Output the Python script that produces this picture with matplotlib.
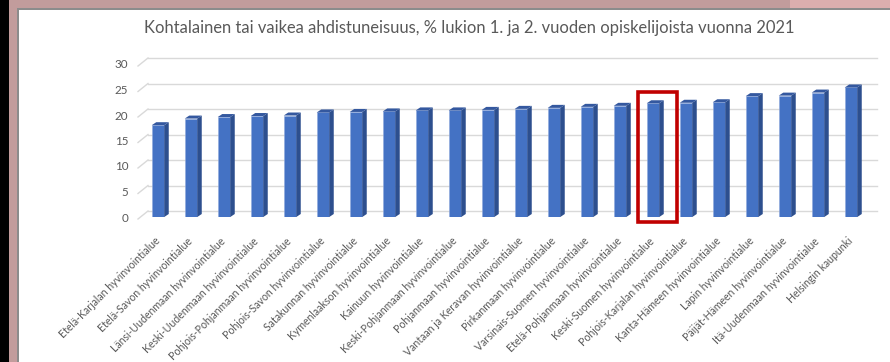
import numpy as np
import matplotlib
matplotlib.use('Agg')
from matplotlib import pyplot as plt
from matplotlib.patches import Polygon, Rectangle

alueet = [
    'Etelä-Karjalan hyvinvointialue',
    'Etelä-Savon hyvinvointialue',
    'Länsi-Uudenmaan hyvinvointialue',
    'Keski-Uudenmaan hyvinvointialue',
    'Pohjois-Pohjanmaan hyvinvointialue',
    'Pohjois-Savon hyvinvointialue',
    'Satakunnan hyvinvointialue',
    'Kymenlaakson hyvinvointialue',
    'Kainuun hyvinvointialue',
    'Keski-Pohjanmaan hyvinvointialue',
    'Pohjanmaan hyvinvointialue',
    'Vantaan ja Keravan hyvinvointialue',
    'Pirkanmaan hyvinvointialue',
    'Varsinais-Suomen hyvinvointialue',
    'Etelä-Pohjanmaan hyvinvointialue',
    'Keski-Suomen hyvinvointialue',
    'Pohjois-Karjalan hyvinvointialue',
    'Kanta-Hämeen hyvinvointialue',
    'Lapin hyvinvointialue',
    'Päijät-Hämeen hyvinvointialue',
    'Itä-Uudenmaan hyvinvointialue',
    'Helsingin kaupunki',
]
osuus = [18.0, 19.3, 19.6, 19.8, 19.9, 20.5, 20.6, 20.7, 20.9, 20.9, 21.0,
         21.2, 21.4, 21.6, 21.8, 22.3, 22.4, 22.5, 23.7, 23.8, 24.4, 25.4]
y_ticks = [0, 5, 10, 15, 20, 25, 30]
korostus = 'Keski-Suomen hyvinvointialue'

otsikko = 'Kohtalainen tai vaikea ahdistuneisuus, % lukion 1. ja 2. vuoden opiskelijoista vuonna 2021'

W, H = 890, 362
fig = plt.figure(figsize=(W / 100, H / 100), dpi=100)
fig.patch.set_facecolor('white')

# window frame as a raster background (row 0 = top)
frame = np.ones((H, W, 3))
def hex_rgb(c):
    return [int(c[i:i + 2], 16) / 255 for i in (1, 3, 5)]
frame[0:8, :] = hex_rgb('#c29c9c')
frame[0:8, 790:] = hex_rgb('#dcaeae')
frame[8:10, :] = hex_rgb('#8c8c8c')
frame[:, 0:9] = hex_rgb('#000000')
frame[:, 9:17] = hex_rgb('#c29c9c')
frame[8:, 17:19] = hex_rgb('#8c8c8c')
fig.figimage(frame, 0, 0, origin='upper', zorder=-10)

# axes: left edge 138 px, right 877 px, y=0 at 217 px, y=30 at 64 px
ax_l, ax_r, ax_b, ax_t = 138, 877, 217, 64
ax = fig.add_axes([ax_l / W, 1 - ax_b / H, (ax_r - ax_l) / W, (ax_b - ax_t) / H])
ax.set_facecolor('none')

x = np.arange(len(alueet))
step = 33.0
x0 = -(158 - ax_l) / step
x1 = x0 + (ax_r - ax_l) / step
ax.set_xlim(x0, x1)
ax.set_ylim(0, 30)

px_x = step                       # pixels per x unit
px_y = (ax_b - ax_t) / 30.0        # pixels per y unit

# back-wall gridlines with slanted floor connectors
for t in y_ticks:
    yb = t + 6 / px_y
    yf = t - 2 / px_y
    xb = x0 + 10 / px_x
    ax.plot([xb, x1], [yb, yb], color='#d9d9d9', lw=1.0, zorder=1, clip_on=False)
    ax.plot([x0, xb], [yf, yb], color='#d9d9d9', lw=1.0, zorder=1, clip_on=False)

# pseudo-3D columns
w = 12.5 / px_x
dx = 4.5 / px_x
dy = 3.0 / px_y
ax.bar(x, osuus, width=w, color='#4472c4', edgecolor='#8fa9dc', linewidth=0.4, zorder=3)
for xi, v in zip(x, osuus):
    side = Polygon([(xi + w / 2, 0), (xi + w / 2 + dx, dy), (xi + w / 2 + dx, v + dy), (xi + w / 2, v)],
                   closed=True, color='#2d4f8e', lw=0, zorder=3)
    top = Polygon([(xi - w / 2, v), (xi + w / 2, v), (xi + w / 2 + dx, v + dy), (xi - w / 2 + dx, v + dy)],
                  closed=True, color='#34589f', lw=0, zorder=4)
    ax.add_patch(side)
    ax.add_patch(top)

# highlight box
k = alueet.index(korostus)
ax.add_patch(Rectangle((k - 0.46, -1.0), 1.18, 25.5, fill=False, edgecolor='#c00000',
                       lw=2.6, zorder=6, clip_on=False))

for s in ax.spines.values():
    s.set_visible(False)

font = ['Lato', 'DejaVu Sans']
ax.set_yticks(y_ticks)
ax.set_yticklabels([str(t) for t in y_ticks], color='#595959', fontsize=8.4, family=font)
ax.tick_params(axis='y', length=0, pad=7)
ax.set_xticks(x)
ax.set_xticklabels(alueet, rotation=45, ha='right', va='center', rotation_mode='anchor',
                   color='#595959', fontsize=7.6, family=font)
ax.tick_params(axis='x', length=0, pad=16)

fig.text(469 / W, 1 - 28 / H, otsikko, ha='center', va='center', color='#595959',
         fontsize=11.9, family=font)

fig.savefig('out.png', dpi=100)
